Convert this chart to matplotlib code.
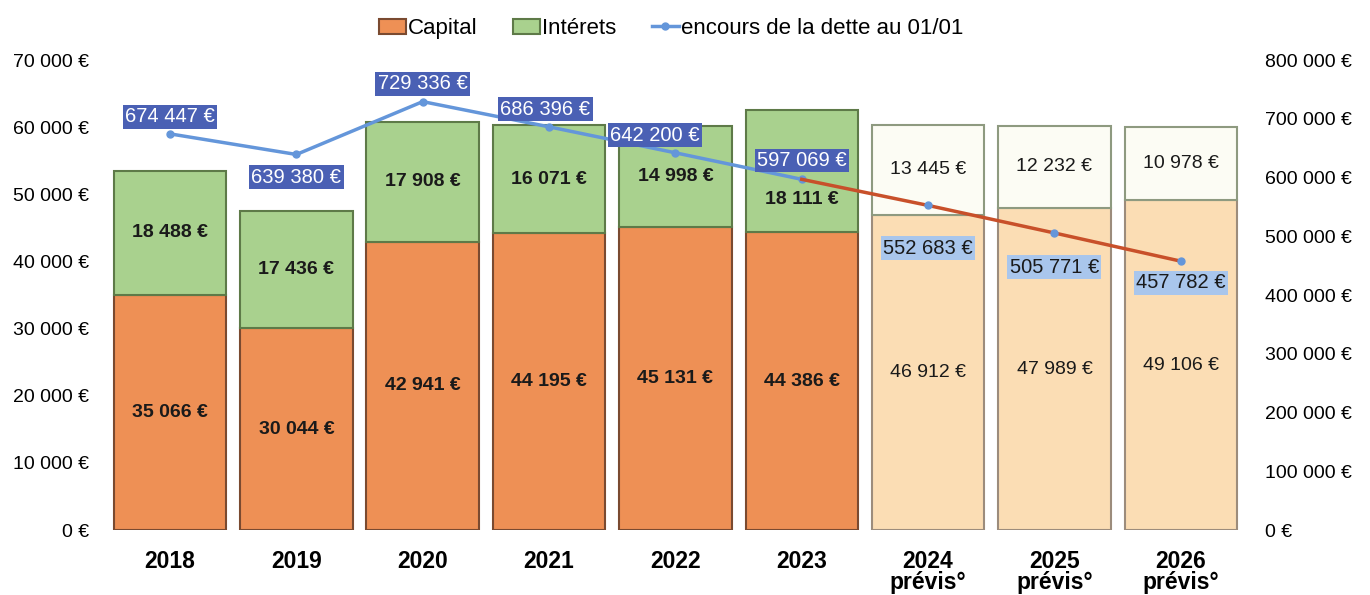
import matplotlib.pyplot as plt
from matplotlib.ticker import FuncFormatter
import numpy as np

plt.rcParams['font.family'] = ['Liberation Sans', 'DejaVu Sans']

years = ["2018", "2019", "2020", "2021", "2022", "2023",
         "2024\nprévis°", "2025\nprévis°", "2026\nprévis°"]
capital = [35066, 30044, 42941, 44195, 45131, 44386, 46912, 47989, 49106]
interets = [18488, 17436, 17908, 16071, 14998, 18111, 13445, 12232, 10978]
encours = [674447, 639380, 729336, 686396, 642200, 597069, 552683, 505771, 457782]
n_real = 6  # les 3 dernières années sont des prévisions


def euro(v, pos=None):
    return "{:,.0f} €".format(v).replace(",", " ")


fig = plt.figure(figsize=(13.7, 5.95), dpi=100)
ax1 = fig.add_axes([0.078, 0.109, 0.830, 0.790])
ax2 = ax1.twinx()

x = np.arange(len(years))
w = 0.89

cap_col = ['#EE9055'] * n_real + ['#FBDDB4'] * 3
cap_edge = ['#7A4A30'] * n_real + ['#9C8C7C'] * 3
int_col = ['#A9D18E'] * n_real + ['#FCFCF4'] * 3
int_edge = ['#5E7A48'] * n_real + ['#8E9A80'] * 3

b1 = ax1.bar(x, capital, w, color=cap_col, edgecolor=cap_edge, linewidth=1.5, label="Capital")
b2 = ax1.bar(x, interets, w, bottom=capital, color=int_col, edgecolor=int_edge,
             linewidth=1.5, label="Intérets")

for i in range(len(x)):
    wt = 'bold' if i < n_real else 'normal'
    ax1.text(x[i], capital[i] * 0.5, euro(capital[i]), ha='center', va='center',
             fontsize=14, fontweight=wt, color='#1a1a1a')
    yi = capital[i] + interets[i] / 2
    if i == 5:
        yi = capital[i] + interets[i] * 0.27
    ax1.text(x[i], yi, euro(interets[i]), ha='center', va='center',
             fontsize=14, fontweight=wt, color='#1a1a1a')

ax1.set_ylim(0, 70000)
ax1.set_xlim(-0.5, len(x) - 0.5)
ax1.set_yticks(np.arange(0, 70001, 10000))
ax1.yaxis.set_major_formatter(FuncFormatter(euro))
ax1.set_xticks(x)
ax1.set_xticklabels(years, fontsize=16.5, fontweight='bold', linespacing=0.9)

# encours de la dette
ax2.plot(x[:n_real], encours[:n_real], color='#6496DA', lw=2.5, marker='o', ms=5,
         label="encours de la dette au 01/01", zorder=3)
ax2.plot(x[n_real - 1:], encours[n_real - 1:], color='#C8502A', lw=2.5, zorder=3)
ax2.plot(x[n_real:], encours[n_real:], ls='none', marker='o', ms=5, color='#6496DA', zorder=4)
ax2.set_ylim(0, 800000)
ax2.set_yticks(np.arange(0, 800001, 100000))
ax2.yaxis.set_major_formatter(FuncFormatter(euro))

offs = [29000, -39000, 30000, 30000, 30000, 32000, -73000, -58000, -37000]
dx = [0, 0, 0, -0.03, -0.16, 0, 0, 0, 0]
for i in range(len(x)):
    if i < n_real:
        box = dict(boxstyle='square,pad=0.12', fc='#4A60B4', ec='none')
        tc = 'white'
    else:
        box = dict(boxstyle='square,pad=0.12', fc='#A9C6EC', ec='none')
        tc = '#1a1a1a'
    ax2.text(x[i] + dx[i], encours[i] + offs[i], euro(encours[i]), ha='center', va='center',
             fontsize=14.5, color=tc, bbox=box, zorder=5)

for ax in (ax1, ax2):
    for s in ax.spines.values():
        s.set_visible(False)
    ax.tick_params(length=0)
ax1.tick_params(axis='y', labelsize=14, pad=13)
ax1.tick_params(axis='x', pad=14)
ax2.tick_params(axis='y', labelsize=14, pad=15)

h1, l1 = ax1.get_legend_handles_labels()
h2, l2 = ax2.get_legend_handles_labels()
fig.legend(h1 + h2, l1 + l2, loc='upper center', bbox_to_anchor=(0.49, 1.003), ncol=3,
           frameon=False, fontsize=16, handlelength=1.2, handletextpad=0.1,
           columnspacing=1.6)

fig.savefig("out.png", dpi=100)
